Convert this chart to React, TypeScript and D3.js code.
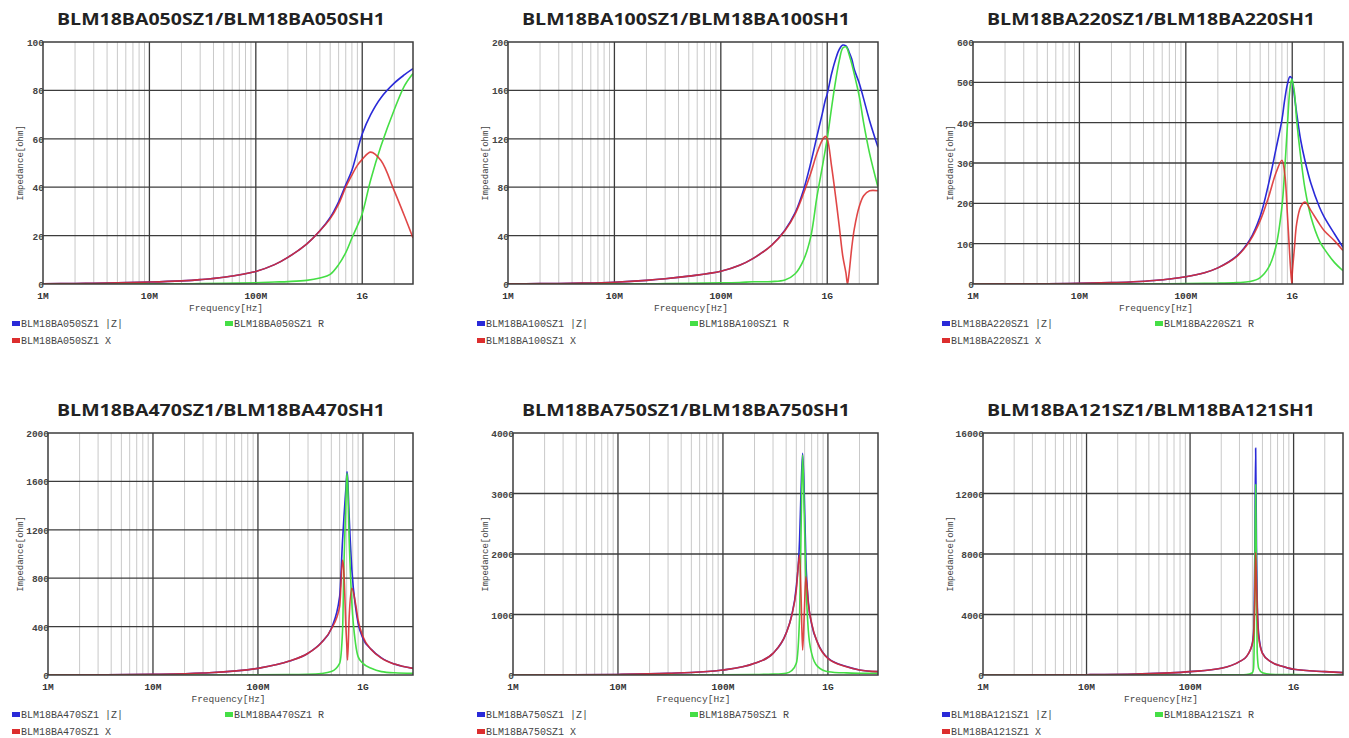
import React from "react";
import * as d3 from "d3";

// ---------- data (frequency in MHz, impedance in ohm) ----------
const partNames = ["BLM18BA050", "BLM18BA100", "BLM18BA220", "BLM18BA470", "BLM18BA750", "BLM18BA121"];
const yMaxes = [100, 200, 600, 2000, 4000, 16000];
const yTickSteps = [20, 40, 100, 400, 1000, 4000];
const xTickLabels = ["1M", "10M", "100M", "1G"];
const xTickValues = [1e6, 1e7, 1e8, 1e9];

const freq050 = [1, 2, 3, 5, 10, 20, 30, 50, 100, 150, 200, 300, 400, 500, 600, 700, 800, 900, 1000, 1200, 1500, 2000, 2500, 3000];
const z050 = [0.1, 0.2, 0.3, 0.5, 0.8, 1.3, 1.8, 2.8, 5.2, 8, 11, 16.5, 22, 27.5, 34, 41, 47, 55, 62, 70, 77, 83, 86.5, 89];
const r050 = [0, 0, 0, 0, 0.05, 0.1, 0.15, 0.25, 0.5, 0.8, 1, 1.5, 2.5, 4, 8, 13, 19, 24, 29, 43, 57, 72, 82, 87];
const x050 = [0.1, 0.2, 0.3, 0.5, 0.8, 1.3, 1.8, 2.8, 5.2, 8, 11, 16.5, 22, 27, 33, 40, 45, 49, 51.5, 54.5, 51, 38.5, 28, 19];

const freq100 = [1, 2, 3, 5, 10, 20, 30, 50, 100, 150, 200, 300, 400, 500, 600, 700, 800, 900, 960, 1000, 1100, 1200, 1300, 1400, 1500, 1550, 1600, 1700, 1800, 2000, 2200, 2500, 3000];
const z100 = [0.15, 0.3, 0.45, 0.75, 1.5, 3, 4.3, 6.5, 10.5, 15.5, 21, 32, 44.5, 59, 78, 100, 122, 141, 152, 157, 174, 186, 194, 197.5, 196.7, 195, 192, 186, 177, 166, 153, 135, 113];
const r100 = [0, 0, 0, 0, 0.1, 0.2, 0.3, 0.5, 1, 1.3, 1.8, 2, 3.3, 8.5, 20, 39, 72, 97, 111, 120, 146, 168, 185, 195, 196, 194, 190, 182, 173, 155, 133, 108, 80];
const x100 = [0.15, 0.3, 0.45, 0.75, 1.5, 3, 4.3, 6.5, 10.5, 15.5, 21, 32, 44, 58, 75, 91.5, 108, 119, 122, 120, 97, 72, 47, 23, 9, 0, 8, 30, 46, 64, 73, 77, 77];

const freq220 = [1, 2, 3, 5, 10, 20, 30, 50, 100, 150, 200, 300, 400, 500, 600, 700, 800, 850, 900, 950, 990, 1000, 1050, 1100, 1200, 1320, 1500, 1800, 2000, 2500, 3000];
const z220 = [0.15, 0.3, 0.5, 0.8, 1.6, 3.3, 5, 8.5, 18, 28, 40, 69, 110, 168, 249, 332, 407, 457, 495, 514, 510, 505, 465, 424, 357, 305, 249, 191, 166, 124, 91];
const r220 = [0, 0, 0, 0, 0, 0.1, 0.2, 0.5, 1, 1.5, 2, 3.5, 6, 16, 41, 91, 191, 283, 391, 482, 508, 505, 474, 407, 316, 235, 166, 107, 87, 53, 33];
const x220 = [0.15, 0.3, 0.5, 0.8, 1.6, 3.3, 5, 8.5, 18, 28, 40, 68, 107, 157, 216, 274, 307, 274, 174, 66, 0, 25, 91, 149, 191, 203, 182, 149, 132, 107, 83];

const freq470 = [1, 3, 10, 30, 100, 200, 300, 400, 500, 600, 640, 660, 690, 705, 714, 740, 785, 850, 900, 1000, 1200, 1500, 2000, 3000];
const z470 = [0.5, 1.6, 5.3, 16, 55, 115, 180, 267, 385, 647, 1115, 1308, 1556, 1680, 1640, 1308, 868, 565, 427, 303, 212, 141, 90, 55];
const r470 = [0, 0, 0.1, 0.5, 2, 4, 6, 12, 28, 96, 372, 923, 1474, 1667, 1600, 1116, 592, 262, 152, 96, 55, 28, 18, 14];
const x470 = [0.5, 1.6, 5.3, 16, 55, 115, 180, 265, 380, 565, 950, 840, 372, 220, 124, 482, 716, 592, 455, 317, 210, 140, 90, 55];

const freq750 = [1, 3, 10, 30, 100, 200, 300, 400, 450, 500, 537, 555, 574, 595, 617, 650, 700, 800, 1000, 1500, 2000, 3000];
const z750 = [1, 3, 9, 27, 83, 193, 358, 692, 975, 1460, 2231, 3058, 3664, 3003, 1901, 1220, 840, 530, 278, 140, 84, 55];
const r750 = [0, 0, 0.2, 1, 3, 8, 15, 30, 70, 193, 964, 2397, 3636, 2672, 1570, 744, 358, 138, 55, 35, 30, 28];
const x750 = [1, 3, 9, 27, 83, 193, 358, 689, 964, 1405, 1983, 1300, 413, 1000, 1625, 1185, 854, 523, 275, 138, 83, 55];

const freq121 = [1, 3, 10, 30, 100, 200, 300, 350, 400, 410, 415, 422, 430, 438, 445, 460, 500, 600, 800, 1000, 2000, 3000];
const z121 = [2, 6, 20, 65, 221, 441, 884, 1216, 2110, 2700, 3600, 8000, 15000, 8500, 5000, 2700, 1450, 885, 553, 375, 221, 155];
const r121 = [0, 0, 0.1, 0.5, 2, 5, 15, 30, 150, 400, 1500, 6000, 12600, 6000, 1500, 450, 150, 50, 30, 25, 20, 20];
const x121 = [2, 6, 20, 65, 221, 441, 883, 1214, 2097, 2600, 3200, 5000, 8100, 6000, 4500, 2500, 1434, 883, 552, 375, 221, 155];

const freqs = [freq050, freq100, freq220, freq470, freq750, freq121];
const zSeries = [z050, z100, z220, z470, z750, z121];
const rSeries = [r050, r100, r220, r470, r750, r121];
const xSeries = [x050, x100, x220, x470, x750, x121];

// ---------- styles ----------
const BLUE = "#2a2ad8";
const GREEN = "#45de45";
const RED = "#dc2e2e";
const DARK = "#3c3c3c";
const MINOR = "#c9c9c9";
const MONO = "'Liberation Mono', 'DejaVu Sans Mono', monospace";

function Panel({ idx }: { idx: number }) {
  const col = idx % 3;
  const row = Math.floor(idx / 3);
  const ox = col * 465;
  const oy = row * 391;
  const yMax = yMaxes[idx];
  const digits = String(yMax).length;
  const left = ox + 43 + 5 * (digits - 3);
  const right = ox + 413;
  const top = oy + 42;
  const bottom = oy + 284;

  const x = d3.scaleLog().domain([1e6, 3e9]).range([left, right]);
  const y = d3.scaleLinear().domain([0, yMax]).range([bottom, top]);
  const yTicks = d3.range(0, yMax + 1e-9, yTickSteps[idx]);

  const minor: number[] = [];
  for (let d = 1e6; d <= 1e9; d *= 10) {
    for (let k = 2; k <= 9; k++) {
      const f = d * k;
      if (f < 3e9) minor.push(f);
    }
  }

  const f = freqs[idx];
  const curve = idx < 3 ? d3.curveCatmullRom.alpha(0.5) : d3.curveMonotoneX;
  const mk = (vals: number[]) =>
    d3
      .line<number>()
      .x((_, i) => x(f[i] * 1e6))
      .y((v) => y(v))
      .curve(curve)(vals) || "";

  const name = partNames[idx];
  const title = `${name}SZ1/${name}SH1`;
  const clipId = `clip${idx}`;
  const cx = (left + right) / 2;
  const legX = ox + 12;
  const legY = oy + 321;

  return (
    <g>
      <text
        x={ox + 221}
        y={oy + 25}
        textAnchor="middle"
        fontFamily="'Open Sans', Lato, sans-serif"
        fontWeight="bold"
        fontSize={16}
        fill="#222"
        textLength={328}
        lengthAdjust="spacingAndGlyphs"
      >
        {title}
      </text>
      <defs>
        <clipPath id={clipId}>
          <rect x={left} y={top} width={right - left} height={bottom - top} />
        </clipPath>
      </defs>
      <rect x={left} y={top} width={right - left} height={bottom - top} fill="#fff" />
      {minor.map((m) => (
        <line key={"m" + m} x1={x(m)} x2={x(m)} y1={top} y2={bottom} stroke={MINOR} strokeWidth={1} />
      ))}
      {xTickValues.slice(1).map((t) => (
        <line key={"M" + t} x1={x(t)} x2={x(t)} y1={top} y2={bottom} stroke={DARK} strokeWidth={1.3} />
      ))}
      {yTicks.slice(1, -1).map((t) => (
        <line key={"h" + t} x1={left} x2={right} y1={y(t)} y2={y(t)} stroke={DARK} strokeWidth={1.3} />
      ))}
      <g clipPath={`url(#${clipId})`} fill="none" strokeWidth={1.6} strokeLinejoin="round">
        <path d={mk(zSeries[idx])} stroke={BLUE} />
        <path d={mk(rSeries[idx])} stroke={GREEN} />
        <path d={mk(xSeries[idx])} stroke={RED} strokeOpacity={0.88} />
      </g>
      <rect x={left} y={top} width={right - left} height={bottom - top} fill="none" stroke={DARK} strokeWidth={1.5} />
      {yTicks.map((t) => (
        <text
          key={"yl" + t}
          x={left + 1}
          y={y(t) + 4}
          textAnchor="end"
          fontFamily={MONO}
          fontWeight="bold"
          fontSize={9.5}
          fill="#444"
        >
          {t}
        </text>
      ))}
      {xTickValues.map((t, i) => (
        <text
          key={"xl" + t}
          x={x(t)}
          y={bottom + 15}
          textAnchor="middle"
          fontFamily={MONO}
          fontWeight="bold"
          fontSize={9.5}
          fill="#333"
        >
          {xTickLabels[i]}
        </text>
      ))}
      <text x={cx - 2} y={bottom + 27} textAnchor="middle" fontFamily={MONO} fontSize={9.5} fill="#444">
        Frequency[Hz]
      </text>
      <text
        transform={`translate(${ox + 23},${(top + bottom) / 2}) rotate(-90)`}
        textAnchor="middle"
        fontFamily={MONO}
        fontSize={9}
        fill="#444"
      >
        Impedance[ohm]
      </text>
      <rect x={legX} y={legY} width={8} height={5} fill={BLUE} />
      <text x={legX + 9} y={legY + 6} fontFamily={MONO} fontSize={10} fill="#444">
        {`${name}SZ1 |Z|`}
      </text>
      <rect x={legX + 213} y={legY} width={8} height={5} fill={GREEN} />
      <text x={legX + 222} y={legY + 6} fontFamily={MONO} fontSize={10} fill="#444">
        {`${name}SZ1 R`}
      </text>
      <rect x={legX} y={legY + 17} width={8} height={5} fill={RED} />
      <text x={legX + 9} y={legY + 23} fontFamily={MONO} fontSize={10} fill="#444">
        {`${name}SZ1 X`}
      </text>
    </g>
  );
}

export default function App() {
  return (
    <svg
      width={1349}
      height={738}
      style={{ position: "absolute", left: 0, top: 0, background: "#fff" }}
    >
      {partNames.map((_, i) => (
        <Panel key={i} idx={i} />
      ))}
    </svg>
  );
}
